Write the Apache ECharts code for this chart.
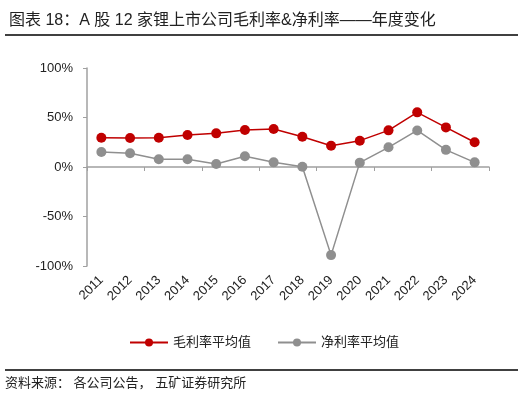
<!DOCTYPE html>
<html>
<head>
<meta charset="utf-8">
<script src="https://cdn.jsdelivr.net/npm/echarts@6/dist/echarts.min.js"></script>
<style>
  html, body { margin: 0; padding: 0; background: #fff; }
  #chart { width: 528px; height: 397px; }
</style>
</head>
<body>
<div id="chart"></div>
<script>
const years = ["2011", "2012", "2013", "2014", "2015", "2016", "2017", "2018", "2019", "2020", "2021", "2022", "2023", "2024"];
const grossMargin = [29.6, 29.3, 29.6, 32.3, 34.0, 37.4, 38.4, 30.6, 21.5, 26.6, 37.0, 55.2, 40.0, 25.0];
const netMargin = [15.2, 13.8, 7.8, 7.8, 3.1, 10.8, 4.7, 0.3, -89.0, 4.4, 19.9, 36.9, 17.3, 4.7];
const yTicks = { min: -100, max: 100, interval: 50 };

const font = "'Liberation Sans', 'Noto Sans CJK SC', sans-serif";
const axisGray = "#a0a0a0";

const myChart = echarts.init(document.getElementById("chart"));

const option = {
	animation: false,
	title: {
		text: "图表 18：A 股 12 家锂上市公司毛利率&净利率——年度变化",
		left: 4,
		top: 8,
		textStyle: { fontSize: 16, fontWeight: "normal", color: "#222", fontFamily: font }
	},
	graphic: [
		{ type: "line", shape: { x1: 5, y1: 35, x2: 518, y2: 35 }, style: { stroke: "#000", lineWidth: 1.5 } },
		{ type: "line", shape: { x1: 5, y1: 370, x2: 518, y2: 370 }, style: { stroke: "#000", lineWidth: 1.5 } },
		{
			type: "text", left: 5, top: 377,
			style: { text: "资料来源： 各公司公告， 五矿证券研究所", fontSize: 13, fill: "#222", fontFamily: font }
		}
	],
	legend: {
		top: 331,
		left: "center",
		itemWidth: 38,
		itemHeight: 10,
		itemGap: 26,
		textStyle: { fontSize: 13, color: "#222", fontFamily: font },
		data: ["毛利率平均值", "净利率平均值"]
	},
	grid: { left: 87, right: 39, top: 68, bottom: 131 },
	xAxis: [
		{
			type: "category",
			data: years,
			position: "bottom",
			axisLine: { show: false, onZero: false },
			axisTick: { show: false },
			axisLabel: { rotate: 45, margin: 12, fontSize: 13, color: "#222", fontFamily: font, interval: 0 }
		},
		{
			type: "category",
			data: years,
			position: "bottom",
			axisLine: { show: true, onZero: true, lineStyle: { color: axisGray, width: 1.5 } },
			axisTick: { show: true, inside: false, length: 4, lineStyle: { color: axisGray } },
			axisLabel: { show: false }
		}
	],
	yAxis: {
		type: "value",
		min: yTicks.min,
		max: yTicks.max,
		interval: yTicks.interval,
		axisLine: { show: true, lineStyle: { color: axisGray, width: 1.5 } },
		axisTick: { show: true, length: 4, lineStyle: { color: axisGray } },
		splitLine: { show: false },
		axisLabel: {
			formatter: "{value}%",
			fontSize: 13,
			color: "#222",
			margin: 14,
			fontFamily: font
		}
	},
	series: [
		{
			name: "毛利率平均值",
			type: "line",
			data: grossMargin,
			symbol: "circle",
			symbolSize: 10,
			lineStyle: { color: "#c00000", width: 1.5 },
			itemStyle: { color: "#c00000" },
			z: 3
		},
		{
			name: "净利率平均值",
			type: "line",
			data: netMargin,
			symbol: "circle",
			symbolSize: 10,
			lineStyle: { color: "#8f8f8f", width: 1.5 },
			itemStyle: { color: "#8f8f8f" },
			z: 2
		}
	]
};

option && myChart.setOption(option);
</script>
</body>
</html>
